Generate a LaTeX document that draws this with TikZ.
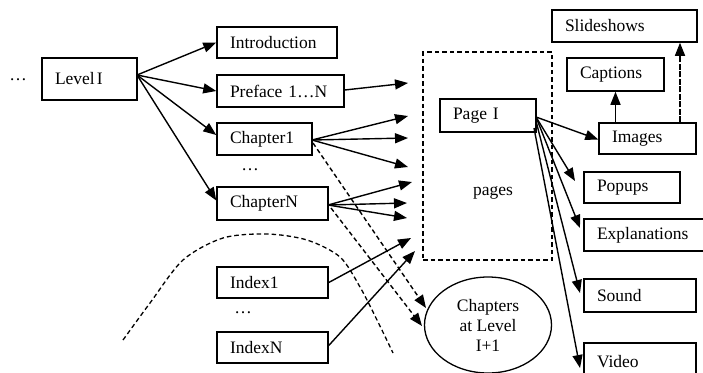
\documentclass[tikz,border=0pt]{standalone}
\usepackage{fontspec}
\setmainfont{Liberation Serif}
\usetikzlibrary{arrows.meta,shapes.geometric}
\tikzset{
  bx/.style 2 args={draw, line width=1.5pt, rectangle, inner xsep=13pt, inner ysep=0pt,
    text width=#1, minimum height=#2, align=left, font=\fontsize{17.5}{20}\selectfont},
  plain/.style={inner sep=0pt, font=\fontsize{17.5}{20}\selectfont},
  arr/.style={line width=1.4pt, -{Triangle[length=13pt,width=10pt]}},
  dsh/.style={line width=1.3pt, dash pattern=on 4.5pt off 3pt},
}
\begin{document}
\begin{tikzpicture}[x=1pt,y=-1pt]
\useasboundingbox (0,0) rectangle (703,372);
\clip (0,0) rectangle (703,372);
% left column
\node[plain] (d0) at (18,80) {\ldots};
\node[bx={69pt}{42pt}] (lvl) at (89.5,79) {Level\kern2pt I};
\node[bx={94pt}{31pt}] (intro) at (277,42.5) {Introduction};
\node[bx={101pt}{32pt}] (pref) at (280.5,91) {Preface 1\ldots N};
\node[bx={69pt}{32pt}] (ch1) at (264.5,139) {Chapter1};
\node[plain] (d1) at (250,170) {\ldots};
\node[bx={85pt}{33pt}] (chN) at (272.5,203.5) {ChapterN};
\node[bx={85pt}{31pt}] (idx1) at (272.5,282.5) {Index1};
\node[plain] (d2) at (243,313) {\ldots};
\node[bx={85pt}{31pt}] (idxN) at (272.5,347.5) {IndexN};
% pages
\node[dsh, draw, minimum width=129pt, minimum height=208pt, inner sep=0pt] (pages) at (487.5,156) {};
\node[bx={70pt}{33pt}] (pageI) at (488,115.5) {Page I};
\node[plain] (ptxt) at (493,193) {pages};
\node[draw, ellipse, line width=1.3pt, minimum width=127pt, minimum height=96pt, inner sep=0pt,
  align=center, font=\fontsize{17.5}{20}\selectfont] (nxt) at (488,325) {Chapters\\at Level\\I+1};
% right column
\node[bx={119pt}{32pt}] (slides) at (624.5,26) {Slideshows};
\node[bx={71pt}{33pt}] (capt) at (615.5,74.5) {Captions};
\node[bx={71pt}{31pt}] (imgs) at (647.5,138.5) {Images};
\node[bx={70pt}{31pt}] (pops) at (632,187.5) {Popups};
\node[bx={96pt}{32pt}] (expl) at (645,235) {Explanations};
\node[bx={86pt}{33pt}] (snd) at (640,295.5) {Sound};
\node[bx={86pt}{38pt}] (vid) at (640,362) {Video};
% free arrow ends
\coordinate (p1) at (408,83);
\coordinate (c1a) at (408,116);
\coordinate (c1b) at (408,138);
\coordinate (c1c) at (408,167);
\coordinate (cna) at (412,182);
\coordinate (cnb) at (407,203);
\coordinate (cnc) at (407,218);
\coordinate (i1) at (411,238);
\coordinate (iN) at (415,251);
\coordinate (e1) at (426,308);
\coordinate (e2) at (422,326);
\coordinate (tp) at (575,181);
\coordinate (te) at (580,228);
\coordinate (ts) at (580,293);
\coordinate (tv) at (580,368);
% arrows from Level I
\coordinate (lo) at (137,75);
\draw[arr] (lo) -- (intro.west);
\draw[arr] (lo) -- (pref.west);
\draw[arr] (lo) -- ([yshift=4pt]ch1.west);
\draw[arr] (lo) -- ([yshift=3pt]chN.west);
% arrows to pages
\draw[arr] ([yshift=1pt]pref.east) -- (p1);
\coordinate (c1o) at (312,140);
\draw[arr] (c1o) -- (c1a);
\draw[arr] (c1o) -- (c1b);
\draw[arr] (c1o) -- (c1c);
\coordinate (cno) at (328,205);
\draw[arr] (cno) -- (cna);
\draw[arr] (cno) -- (cnb);
\draw[arr] (cno) -- (cnc);
\draw[arr] (idx1.east) -- (i1);
\draw[arr] ([yshift=2pt]idxN.east) -- (iN);
% dashed to next level
\draw[arr, dash pattern=on 4.5pt off 3pt] (313,143) -- (e1);
\draw[arr, dash pattern=on 4.5pt off 3pt] (331,208) -- (e2);
% arch
\draw[dsh] plot[smooth] coordinates {(123,340) (150,303) (183,260) (223,238) (267,234) (307,240) (340,257) (360,287) (377,320) (393,353)};
% page I arrows
\coordinate (po) at (536,117);
\draw[arr] (po) -- ([yshift=-1pt]imgs.west);
\draw[arr] (po) -- (tp);
\draw[arr] (po) -- (te);
\draw[arr] (536,121) -- (ts);
\draw[arr] (534,128) -- (tv);
% images arrows
\draw[arr] (capt.south |- imgs.north) -- (capt.south);
\draw[arr, dash pattern=on 6pt off 1.5pt] ([xshift=32.5pt]imgs.north) -- ([xshift=32.5pt]imgs.north |- slides.south);
\end{tikzpicture}
\end{document}
